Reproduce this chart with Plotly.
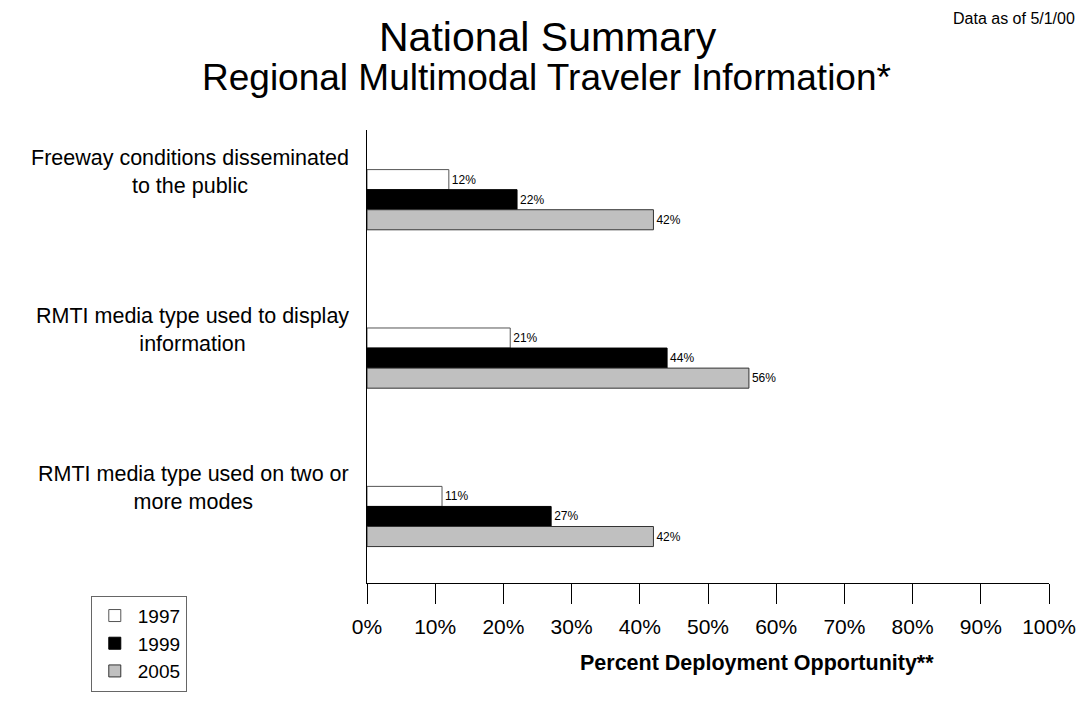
import plotly.graph_objects as go

# data
categories = [
    "Freeway conditions disseminated<br>to the public",
    "RMTI media type used to display<br>information",
    "RMTI media type used on two or<br>more modes",
]
years = ["1997", "1999", "2005"]
values_1997 = [12, 21, 11]
values_1999 = [22, 44, 27]
values_2005 = [42, 56, 42]
x_ticks = list(range(0, 101, 10))
x_tick_labels = [f"{t}%" for t in x_ticks]

FONT = "Arial, Liberation Sans, sans-serif"

series = [
    (years[0], values_1997, "white", "#555555"),
    (years[1], values_1999, "black", "black"),
    (years[2], values_2005, "#c0c0c0", "#333333"),
]

fig = go.Figure()
for name, vals, fill, edge in series:
    fig.add_trace(go.Bar(
        y=categories, x=vals, name=name, orientation="h",
        marker=dict(color=fill, line=dict(color=edge, width=1)),
        text=[f"{v}%" for v in vals], textposition="outside",
        textfont=dict(size=12, color="black", family=FONT),
        cliponaxis=False,
    ))

# category labels, centred text to the left of the axis
for cat in categories:
    fig.add_annotation(
        x=0, xref="paper", xanchor="right", xshift=-16,
        y=cat, yref="y", yshift=28, yanchor="middle",
        text=cat, showarrow=False, align="center",
        font=dict(size=21.5, color="black", family=FONT),
    )

fig.add_annotation(
    x=0.5, xref="paper", y=1, yref="paper", yshift=93, yanchor="middle",
    text="National Summary", showarrow=False,
    font=dict(size=41, color="black", family=FONT), xshift=-160,
)
fig.add_annotation(
    x=0.5, xref="paper", y=1, yref="paper", yshift=53, yanchor="middle",
    text="Regional Multimodal Traveler Information*", showarrow=False,
    font=dict(size=37, color="black", family=FONT), xshift=-162,
)
fig.add_annotation(
    x=1, xref="paper", y=1, yref="paper", xanchor="right", xshift=28,
    yshift=112, yanchor="middle",
    text="Data as of 5/1/00", showarrow=False,
    font=dict(size=16, color="black", family=FONT),
)
fig.add_annotation(
    x=0.5, xref="paper", y=0, yref="paper", xshift=49, yshift=-80,
    yanchor="middle",
    text="<b>Percent Deployment Opportunity**</b>", showarrow=False,
    font=dict(size=21.5, color="black", family=FONT),
)

# the page body adds an 8px margin, so the figure is made 8px smaller
fig.update_layout(
    width=1083, height=702,
    margin=dict(l=359, r=42, t=122, b=127, autoexpand=False),
    paper_bgcolor="white", plot_bgcolor="white",
    barmode="group", bargap=0.62, bargroupgap=0,
    font=dict(family=FONT, color="black"),
    showlegend=True,
    legend=dict(
        x=-0.405, y=-0.028, xanchor="left", yanchor="top",
        traceorder="normal", bordercolor="#666666", borderwidth=1,
        font=dict(size=19, color="black", family=FONT),
        itemwidth=36, tracegroupgap=0,
    ),
    xaxis=dict(
        range=[0, 100], tickmode="array", tickvals=x_ticks,
        ticktext=x_tick_labels,
        showgrid=False, zeroline=False,
        showline=True, linecolor="black", linewidth=1,
        ticks="outside", ticklen=20, tickcolor="black", tickwidth=1,
        tickfont=dict(size=21, color="black", family=FONT),
        ticklabelstandoff=5,
    ),
    yaxis=dict(
        type="category", range=[2.42, -0.44],
        showticklabels=False, showgrid=False, zeroline=False,
        showline=True, linecolor="black", linewidth=1, ticks="",
    ),
)

fig.write_html("out.html")
